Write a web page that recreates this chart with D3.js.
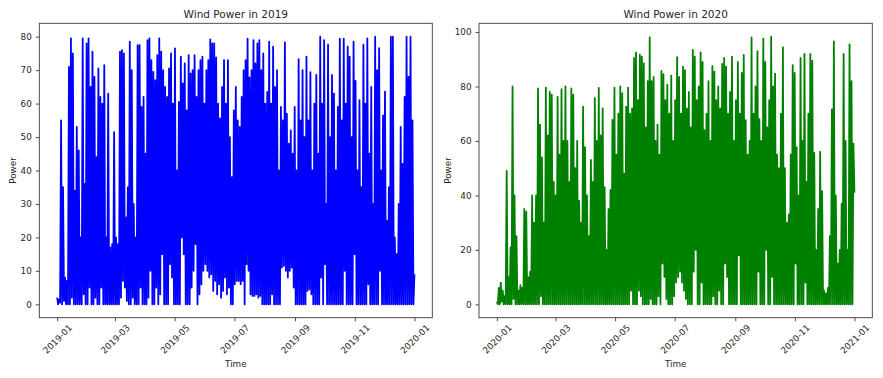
<!DOCTYPE html>
<html>
<head>
<meta charset="utf-8">
<script src="https://cdn.jsdelivr.net/npm/d3@7"></script>
<style>
    body { margin: 0; background: #fff; }
    #chart { width: 883px; height: 378px; }
    text { font-family: "DejaVu Sans", sans-serif; fill: #262626; }
</style>
</head>
<body>
<div id="chart"></div>
<script>

// values: alternating high / low, one value per day
let years = [2019, 2020];
let lineColors = ["blue", "green"];

let power2019 = [
    2,0, 1.5,0.5, 55,0, 35,1, 8,0, 7,0, 71,0, 79.5,2, 75,0, 34,0,
    53,0, 46,0, 20,0, 79.5,3, 36,0, 78,0, 79.5,5, 65,0, 75.5,0, 68,2,
    44,0, 70.5,0, 62,5, 60,0, 71.5,0, 20,0, 63,0, 17,0, 18,0, 51.5,0,
    20,0, 18,0, 75.5,2, 76,7, 75,5, 26,1, 35,0, 78.5,0, 70,2, 30,0,
    20,0, 77.5,0, 77.5,5, 59,0, 62,0, 45,0, 79,2, 79.5,10, 73,0, 69.5,0,
    67,5, 74.5,0, 79.5,3, 75.5,15, 70,0, 65,0, 62,0, 70.5,12, 75,8, 60,0,
    76.5,0, 40,0, 60.5,0, 74,20, 66,15, 72,0, 58,0, 74.5,0, 69,5, 70,10,
    74.5,18, 62,0, 70,3, 73,6, 74,10, 60,12, 70,10, 73,8, 79.2,9, 78,4,
    78,7, 73.8,3, 60,6, 55.6,2, 65,4, 73,8, 60,3, 73,5, 50,0, 38,0,
    58,6, 65,7, 55,7, 53,6, 62,7, 70,0, 73,12, 79.4,10, 67.8,3, 70,2.5,
    79,2.5, 72,3, 78,2, 79,2.5, 70,0, 75,0, 60,0, 63.5,0, 78.5,0, 60,3,
    77,0, 65,0, 70,0, 40,0, 59,11, 55,11.5, 78.3,10, 57,8, 48,10, 52,11,
    45,5, 59,0, 40,0, 73.3,0, 55,0, 70,0, 50,0, 74,4, 55,4.5, 69.4,3,
    40,0, 60,0, 68.6,0, 45,0, 80,8, 60,0, 79,12, 30,0, 77.6,0, 50,0,
    68.6,0, 63,0, 40,0, 59,0, 79.4,0, 55,0, 79.4,10, 60,0, 77,0, 74,0,
    50,0, 78.5,15, 66.8,0, 40,0, 61,0, 35,0, 77.6,0, 60,0, 79.5,6, 45,0,
    65,0, 30,0, 80,0, 70,0, 76.6,10, 40,0, 56.5,0, 63.6,0, 25,0, 35,0,
    80,0, 80,0, 20,0, 15,0, 30,0, 53,0, 42,0, 62,0, 80,0, 68,0,
    80,0, 55,0, 9
];

let power2020 = [
    1,0, 6,0, 8,1, 5,0, 3,0, 49,0, 10,0, 21,0, 80,2, 40,0,
    25,0, 5,0, 7,0, 6,0, 35,0, 34,0, 10,0, 12,0, 40,0, 30,0,
    40,0, 79.3,0, 66,3, 54,0, 30,0, 79.6,0, 62,0, 78,0, 77,0, 45,0,
    40,0, 76.2,0, 55,0, 79,0, 60,0, 80,0, 60,0, 45,0, 79.3,0, 77,0,
    50,0, 60,0, 38,0, 30,0, 72.6,0, 57.7,0, 40,0, 25,0, 53,0, 45,0,
    75.8,0, 60,0, 79.5,0, 62,0, 72,0, 43,0, 20,0, 35,0, 42,0, 67.7,0,
    79.6,0, 55,0, 70,0, 80,0, 77.6,0, 48,0, 72.6,0, 79.6,0, 70,5, 72,0,
    90.5,0, 92.5,0, 75,5, 91.7,3, 91,0, 88.5,0, 65,0, 82,0, 98,2, 82,0,
    83.5,0, 60,0, 66,3, 55,0, 85.7,15, 84.5,10, 75,2, 80.7,0, 70,0, 84,0,
    60,3, 75,8, 90.8,10, 83.5,12, 70,8, 87.3,5, 86,2, 72,0, 78,0, 65,0,
    93.4,12, 91,20, 75,0, 80,0, 92.5,8, 89,0, 64,0, 70,0, 82,0, 60,0,
    87.5,3, 85.5,0, 75,0, 80,5, 72,0, 88.3,0, 90.5,15, 87.3,10, 70,0, 78,0,
    91,0, 60,0, 75,0, 89,18, 70,0, 85,0, 91.6,0, 67.6,0, 55,0, 60,0,
    98,0, 70,0, 80,0, 93,12, 68,0, 60,0, 97.6,0, 89,20, 65,0, 75,0,
    98.3,10, 80,0, 84.7,0, 55,0, 50,0, 70,0, 94.4,0, 50,0, 30,0, 33,0,
    55,0, 87.8,0, 85,15, 57.7,0, 40,0, 90.5,0, 60,0, 92,8, 45,0, 70,0,
    92,0, 89.5,0, 55.6,0, 20,0, 35,0, 56,0, 41.6,0, 5,0, 4,0, 6,0,
    25,0, 71.6,0, 96.6,0, 40,0, 15,0, 20,0, 37,0, 92,0, 60,0, 20,0,
    95.5,0, 82,0, 59,41
];

let yTicks2019 = [0, 10, 20, 30, 40, 50, 60, 70, 80];
let yTicks2020 = [0, 20, 40, 60, 80, 100];


class WindPowerVis {

    constructor(svg, box, year, values, color, yTicks) {
        this.svg = svg;
        this.box = box;
        this.year = year;
        this.values = values;
        this.color = color;
        this.yTicks = yTicks;
        this.displayData = [];

        this.initVis();
    }

    initVis() {
        let vis = this;

        vis.width = vis.box.w;
        vis.height = vis.box.h;

        vis.g = vis.svg.append("g")
            .attr("transform", "translate(" + vis.box.x + "," + vis.box.y + ")");

        // title
        vis.g.append("text")
            .attr("x", vis.width / 2)
            .attr("y", -5)
            .attr("text-anchor", "middle")
            .style("font-size", "10.5px")
            .text("Wind Power in " + vis.year);

        // axis titles
        vis.g.append("text")
            .attr("x", vis.width / 2)
            .attr("y", vis.height + 49)
            .attr("text-anchor", "middle")
            .style("font-size", "8.8px")
            .text("Time");

        vis.g.append("text")
            .attr("transform", `translate(${vis.box.ylabelX}, ${vis.height / 2}) rotate(-90)`)
            .attr("text-anchor", "middle")
            .attr("dominant-baseline", "central")
            .style("font-size", "8.8px")
            .text("Power");

        vis.x = d3.scaleTime().range([0, vis.width]);
        vis.y = d3.scaleLinear().range([vis.height, 0]);

        vis.xAxis = vis.g.append("g")
            .attr("class", "x-axis axis")
            .attr("transform", "translate(0," + vis.height + ")");

        vis.yAxis = vis.g.append("g")
            .attr("class", "y-axis axis");

        vis.path = vis.g.append("path").attr("class", "line");

        vis.line = d3.line()
            .x(d => vis.x(d.time))
            .y(d => vis.y(d.power));

        // frame
        vis.g.append("rect")
            .attr("width", vis.width)
            .attr("height", vis.height)
            .attr("fill", "none")
            .attr("stroke", "#3a3a3a")
            .attr("stroke-width", 0.9);

        vis.wrangleData();
    }

    wrangleData() {
        let vis = this;

        let start = new Date(vis.year, 0, 1);
        let hours = d3.timeHour.count(start, new Date(vis.year + 1, 0, 1));
        let n = vis.values.length;

        vis.displayData = vis.values.map((v, i) => ({
            time: d3.timeHour.offset(start, Math.round(i * (hours - 1) / (n - 1))),
            power: v
        }));

        vis.updateVis();
    }

    updateVis() {
        let vis = this;

        // matplotlib style 5% margins
        let tExt = d3.extent(vis.displayData, d => d.time);
        let tPad = (tExt[1] - tExt[0]) * 0.05;
        vis.x.domain([new Date(+tExt[0] - tPad), new Date(+tExt[1] + tPad)]);

        let pExt = d3.extent(vis.displayData, d => d.power);
        let pPad = (pExt[1] - pExt[0]) * 0.05;
        vis.y.domain([pExt[0] - pPad, pExt[1] + pPad]);

        vis.path.datum(vis.displayData)
            .attr("d", vis.line)
            .attr("fill", "none")
            .attr("stroke", vis.color)
            .attr("stroke-width", 1.8)
            .attr("stroke-linejoin", "round");

        vis.xAxis.call(d3.axisBottom(vis.x)
            .ticks(d3.timeMonth.every(2))
            .tickFormat(d3.timeFormat("%Y-%m"))
            .tickSize(3.5)
            .tickSizeOuter(0));

        vis.xAxis.selectAll(".tick text")
            .attr("y", 0)
            .attr("dy", null)
            .attr("text-anchor", "middle")
            .attr("dominant-baseline", "central")
            .attr("transform", "translate(0,21.5) rotate(-45)");

        vis.yAxis.call(d3.axisLeft(vis.y)
            .tickValues(vis.yTicks)
            .tickSize(3.5)
            .tickPadding(4)
            .tickSizeOuter(0));

        vis.g.selectAll(".axis .domain").remove();
        vis.g.selectAll(".axis .tick line").attr("stroke", "#3a3a3a").attr("stroke-width", 0.9);
        vis.g.selectAll(".axis text").style("font-size", "8.8px").attr("fill", "#262626")
            .style("font-family", "DejaVu Sans, sans-serif");
    }
}


let svg = d3.select("#chart").append("svg")
    .attr("width", 883)
    .attr("height", 378);

let boxes = [
    {x: 39.3, y: 23.3, w: 393, h: 294.4, ylabelX: -26},
    {x: 479, y: 23.3, w: 393.3, h: 294.4, ylabelX: -31}
];

let vis2019 = new WindPowerVis(svg, boxes[0], years[0], power2019, lineColors[0], yTicks2019);
let vis2020 = new WindPowerVis(svg, boxes[1], years[1], power2020, lineColors[1], yTicks2020);

</script>
</body>
</html>
